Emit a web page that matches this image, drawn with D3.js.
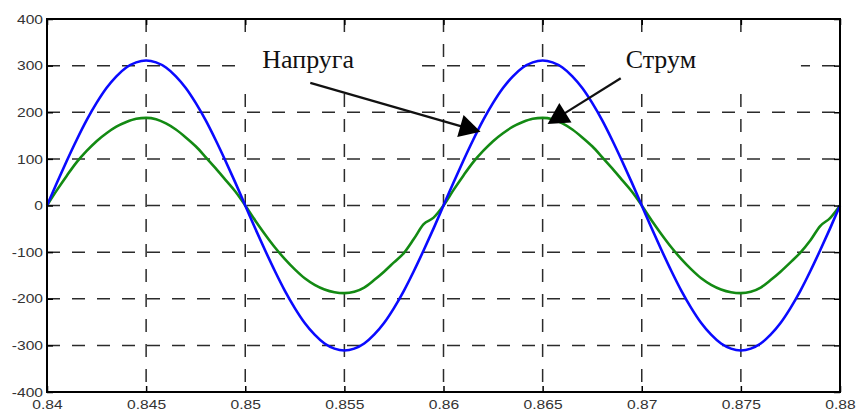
<!DOCTYPE html>
<html>
<head>
<meta charset="utf-8">
<script src="https://cdn.jsdelivr.net/npm/d3@7"></script>
<style>
  html, body { margin: 0; padding: 0; background: #fff; }
  svg { display: block; }
</style>
</head>
<body>
<svg id="chart" width="856" height="411"></svg>
<script>
// Sample instants: 0.84 s to 0.88 s every 0.5 ms
const time = d3.range(81).map(i => +(0.84 + i * 0.0005).toFixed(4));

// Mains voltage, V
const voltage = [
  0, 49, 96, 141, 183, 220, 252, 277, 296, 307, 311, 307, 296, 277, 252, 220, 183, 141, 96, 49,
  0, -49, -96, -141, -183, -220, -252, -277, -296, -307, -311, -307, -296, -277, -252, -220, -183, -141, -96, -49,
  0, 49, 96, 141, 183, 220, 252, 277, 296, 307, 311, 307, 296, 277, 252, 220, 183, 141, 96, 49,
  0, -49, -96, -141, -183, -220, -252, -277, -296, -307, -311, -307, -296, -277, -252, -220, -183, -141, -96, -49,
  0
];

// Line current, A
const current = [
  0, 33, 64, 93, 117, 138, 155, 169, 179, 186, 188, 185, 176, 163, 146, 127, 104, 80, 55, 30,
  0, -32, -62, -90, -115, -137, -156, -170, -180, -186, -188, -185, -176, -160, -142, -122, -102, -72, -40, -26,
  0, 33, 64, 93, 117, 138, 155, 169, 179, 186, 188, 185, 176, 163, 146, 127, 104, 80, 55, 30,
  0, -32, -62, -90, -115, -137, -156, -170, -180, -186, -188, -185, -176, -160, -142, -122, -101, -75, -44, -27,
  0
];

// Axis ticks
const xTicks = [0.84, 0.845, 0.85, 0.855, 0.86, 0.865, 0.87, 0.875, 0.88];
const xTickLabels = ["0.84", "0.845", "0.85", "0.855", "0.86", "0.865", "0.87", "0.875", "0.88"];
const yTicks = [-400, -300, -200, -100, 0, 100, 200, 300, 400];
const yTickLabels = ["-400", "-300", "-200", "-100", "0", "100", "200", "300", "400"];

// Callout labels (anchor in data units) and their arrows (tail -> tip)
const calloutText = ["Напруга", "Струм"];
const calloutAnchor = [[0.85086, 295], [0.86919, 295]];
const calloutBox = [[0.84975, 0.85874, 361, 263], [0.86742, 0.87803, 357, 263]];
const arrowTail = [[0.85328, 263], [0.86894, 273]];
const arrowTip = [[0.86187, 158], [0.86525, 175]];

const svg = d3.select("#chart");
const plotLeft = 47, plotRight = 840, plotTop = 19, plotBottom = 392;

const x = d3.scaleLinear().domain([0.84, 0.88]).range([plotLeft, plotRight]);
const y = d3.scaleLinear().domain([-400, 400]).range([plotBottom, plotTop]);

const FONT = "'Liberation Sans', Arial, Helvetica, sans-serif";
const SERIF = "'Liberation Serif', 'Times New Roman', serif";

// Dashed grid
const grid = svg.append("g").attr("stroke", "#2b2b2b").attr("stroke-width", 1.5)
  .attr("stroke-dasharray", "13,12").attr("fill", "none");
grid.selectAll("line.v").data(xTicks.slice(1, -1)).join("line").attr("class", "v")
  .attr("x1", d => x(d)).attr("x2", d => x(d))
  .attr("y1", plotTop).attr("y2", plotBottom);
grid.selectAll("line.h").data(yTicks.slice(1, -1)).join("line").attr("class", "h")
  .attr("x1", plotLeft).attr("x2", plotRight)
  .attr("y1", d => y(d)).attr("y2", d => y(d));

// White boxes behind callout labels
svg.append("g").selectAll("rect").data(calloutBox).join("rect")
  .attr("x", d => x(d[0])).attr("width", d => x(d[1]) - x(d[0]))
  .attr("y", d => y(d[2])).attr("height", d => y(d[3]) - y(d[2]))
  .attr("fill", "#fff");

// Curves
const line = (vals) => d3.line()
  .x((d, i) => x(time[i]))
  .y(d => y(d))
  .curve(d3.curveMonotoneX)(vals);

svg.append("path").attr("d", line(current))
  .attr("fill", "none").attr("stroke", "#138a13").attr("stroke-width", 2.6)
  .attr("stroke-linejoin", "round");
svg.append("path").attr("d", line(voltage))
  .attr("fill", "none").attr("stroke", "#0a0aff").attr("stroke-width", 2.6)
  .attr("stroke-linejoin", "round");

// Inward tick marks on all four sides, labels on left and bottom
function styleAxis(g) {
  g.select(".domain").remove();
  g.selectAll(".tick line").attr("stroke", "#000").attr("stroke-width", 1.5);
  g.selectAll(".tick text").attr("fill", "#333").style("font-family", FONT).style("font-size", "13px");
}
const xAxis = svg.append("g").attr("transform", `translate(0,${plotBottom})`)
  .call(d3.axisBottom(x).tickValues(xTicks).tickFormat((d, i) => xTickLabels[i])
    .tickSizeInner(-6).tickSizeOuter(0).tickPadding(8))
  .call(styleAxis);
const yAxis = svg.append("g").attr("transform", `translate(${plotLeft},0)`)
  .call(d3.axisLeft(y).tickValues(yTicks).tickFormat((d, i) => yTickLabels[i])
    .tickSizeInner(-6).tickSizeOuter(0).tickPadding(4))
  .call(styleAxis);
svg.append("g").attr("transform", `translate(0,${plotTop})`)
  .call(d3.axisTop(x).tickValues(xTicks).tickFormat("").tickSizeInner(-6).tickSizeOuter(0))
  .call(styleAxis);
svg.append("g").attr("transform", `translate(${plotRight},0)`)
  .call(d3.axisRight(y).tickValues(yTicks).tickFormat("").tickSizeInner(-6).tickSizeOuter(0))
  .call(styleAxis);

// Widen tick labels slightly (wide sans lettering)
[xAxis, yAxis].forEach(g => g.selectAll(".tick text").each(function () {
  const w = this.getComputedTextLength();
  d3.select(this).attr("textLength", w * 1.2).attr("lengthAdjust", "spacingAndGlyphs");
}));

// Frame
svg.append("rect").attr("x", plotLeft).attr("y", plotTop)
  .attr("width", plotRight - plotLeft).attr("height", plotBottom - plotTop)
  .attr("fill", "none").attr("stroke", "#000").attr("stroke-width", 2);

// Callout labels
svg.append("g").selectAll("text").data(calloutText).join("text")
  .attr("x", (d, i) => x(calloutAnchor[i][0]))
  .attr("y", (d, i) => y(calloutAnchor[i][1]))
  .attr("fill", "#111")
  .style("font-family", SERIF).style("font-size", "26px")
  .text(d => d);

// Arrows
const arrows = svg.append("g");
arrowTail.forEach((tail, i) => {
  const x0 = x(tail[0]), y0 = y(tail[1]);
  const x1 = x(arrowTip[i][0]), y1 = y(arrowTip[i][1]);
  const len = Math.hypot(x1 - x0, y1 - y0);
  const ux = (x1 - x0) / len, uy = (y1 - y0) / len;
  const headLen = 21, headHalf = 11.5;
  const bx = x1 - ux * headLen, by = y1 - uy * headLen;
  arrows.append("line")
    .attr("x1", x0).attr("y1", y0).attr("x2", bx + ux * 2).attr("y2", by + uy * 2)
    .attr("stroke", "#111").attr("stroke-width", 2.2);
  arrows.append("path")
    .attr("d", `M${x1},${y1}L${bx - uy * headHalf},${by + ux * headHalf}L${bx + uy * headHalf},${by - ux * headHalf}Z`)
    .attr("fill", "#000");
});
</script>
</body>
</html>
